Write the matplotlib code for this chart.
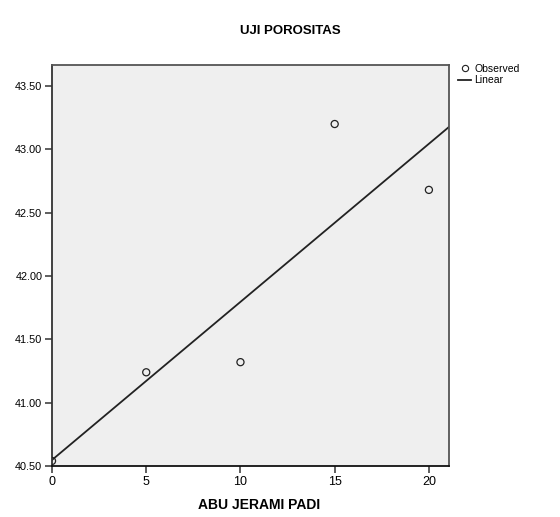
import numpy as np
import matplotlib.pyplot as plt
from matplotlib.lines import Line2D

plt.rcParams['font.family'] = ['Liberation Sans Narrow', 'Liberation Sans', 'DejaVu Sans']

# Data
abu = [0, 5, 10, 15, 20]
porositas = [40.54, 41.24, 41.32, 43.20, 42.68]
y_ticks = [40.50, 41.00, 41.50, 42.00, 42.50, 43.00, 43.50]
x_ticks = [0, 5, 10, 15, 20]

# Linear fit
slope, intercept = np.polyfit(abu, porositas, 1)
xl = np.array([0, 21.07])

fig = plt.figure(figsize=(5.6, 5.17), dpi=100)
ax = fig.add_axes([0.0929, 0.0986, 0.709, 0.7757])
ax.set_facecolor('#efefef')

ax.plot(xl, intercept + slope * xl, color='#222222', lw=1.3)
ax.scatter(abu, porositas, s=26, facecolors='none', edgecolors='#222222', linewidths=0.9, zorder=3)

ax.set_xlim(0, 21.07)
ax.set_ylim(40.5, 43.666)
ax.set_xticks(x_ticks)
ax.set_yticks(y_ticks)
ax.set_yticklabels(['%.2f' % v for v in y_ticks])
ax.tick_params(direction='out', length=5, width=1.1, color='#333333', labelsize=7.8, pad=2)
ax.tick_params(axis='x', labelsize=9, pad=2)
for sp in ax.spines.values():
    sp.set_color('#555555')
    sp.set_linewidth(1.3)
ax.spines['bottom'].set_color('#111111')
ax.spines['left'].set_color('#333333')

fig.text(0.518, 0.94, 'UJI POROSITAS', ha='center', va='center', fontsize=9.5, fontweight='bold')
fig.text(0.463, 0.023, 'ABU JERAMI PADI', ha='center', va='center', fontsize=10, fontweight='bold')

handles = [
    Line2D([], [], marker='o', ls='none', mfc='none', mec='#222222', ms=4.5, mew=0.8),
    Line2D([], [], color='#222222', lw=1.3),
]
fig.legend(handles, ['Observed', 'Linear'], loc='upper left', bbox_to_anchor=(0.81, 0.885),
           frameon=False, fontsize=7.5, handlelength=1.3, handletextpad=0.3, labelspacing=0.15,
           borderaxespad=0)

fig.savefig('out.png', dpi=100)
